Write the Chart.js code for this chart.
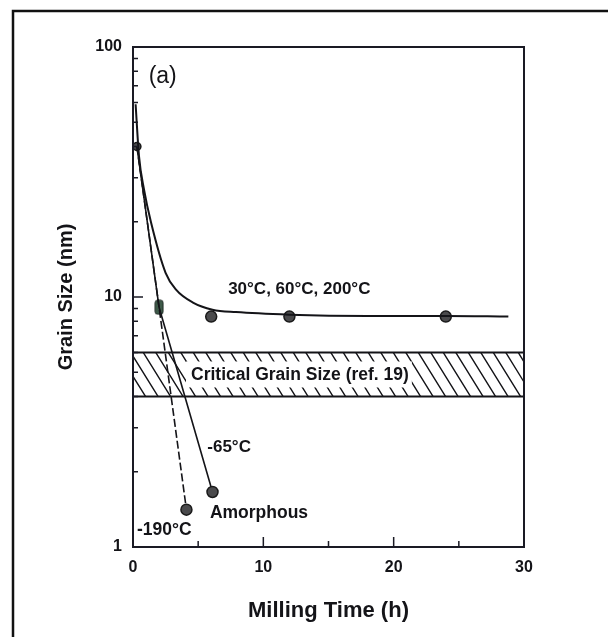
<!DOCTYPE html>
<html>
<head>
<meta charset="utf-8">
<script src="https://cdn.jsdelivr.net/npm/chart.js@4/dist/chart.umd.min.js"></script>
<style>
  html, body { margin: 0; padding: 0; background: #ffffff; }
  canvas { display: block; }
</style>
</head>
<body>
<canvas id="grainChart" width="608" height="637"></canvas>
<script>
// Grain size (nm) versus milling time (h) at several milling temperatures
const startTime = [0.3];
const startSize = [40];

const warmCurveTime = [0.2, 0.46, 0.84, 1.38, 2.5, 3.3, 4.6, 6.1, 7.9, 12, 18, 24, 28.8];
const warmCurveSize = [59, 36.6, 27, 19.9, 12.5, 10.7, 9.5, 8.9, 8.7, 8.5, 8.4, 8.4, 8.35];
const warmPointTime = [6, 12, 24];
const warmPointSize = [8.35, 8.35, 8.35];

const minus65Time = [0.3, 2, 6.1];
const minus65Size = [40, 9.1, 1.66];
const minus190Time = [0.3, 2, 4.1];
const minus190Size = [40, 9.1, 1.41];
const squareTime = [2];
const squareSize = [9.1];

const criticalBand = [4, 6];

const xTickLabels = [0, 10, 20, 30];
const yTickLabels = [1, 10, 100];
const xMajorTicks = [10, 20];
const xMinorTicks = [5, 15, 25];
const yMajorTicks = [10];
const yMinorTicks = [2, 3, 4, 5, 6, 7, 8, 9, 20, 30, 40, 50, 60, 70, 80, 90];

const FAMILY = '"Liberation Sans", Arial, Helvetica, sans-serif';
const INK = '#141418';

// Text labels placed at (hours, nm) anchors; text starts at the anchor and is vertically centred on it
const notes = [
  { text: '(a)', t: 1.2, v: 76, font: 'normal 23px ' + FAMILY },
  { text: '30\u00B0C, 60\u00B0C, 200\u00B0C', t: 7.3, v: 10.7, font: 'bold 17px ' + FAMILY },
  { text: '-65\u00B0C', t: 5.7, v: 2.51, font: 'bold 17px ' + FAMILY },
  { text: 'Amorphous', t: 5.9, v: 1.37, font: 'bold 17.5px ' + FAMILY },
  { text: '-190\u00B0C', t: 0.3, v: 1.17, font: 'bold 17.5px ' + FAMILY }
];
const bandNote = { text: 'Critical Grain Size (ref. 19)', t: 4.45, font: 'bold 17.5px ' + FAMILY };

const pts = (xs, ys) => xs.map((x, i) => ({ x: x, y: ys[i] }));

// Small rounded rectangle used as the marker at 2 h
const squareMarker = (() => {
  const c = document.createElement('canvas');
  c.width = 10; c.height = 16;
  const g = c.getContext('2d');
  g.fillStyle = '#3e5a49';
  g.strokeStyle = '#1f2a24';
  g.lineWidth = 1;
  g.beginPath();
  g.roundRect(1, 1, 8, 14, 2.5);
  g.fill();
  g.stroke();
  return c;
})();

const decorations = {
  id: 'decorations',
  beforeDraw(chart) {
    const ctx = chart.ctx;
    ctx.save();
    ctx.strokeStyle = '#111';
    ctx.lineWidth = 2.5;
    ctx.beginPath();
    ctx.moveTo(13, 637);
    ctx.lineTo(13, 11);
    ctx.lineTo(608, 11);
    ctx.stroke();
    ctx.restore();
  },
  beforeDatasetsDraw(chart) {
    const { ctx, chartArea: a, scales: { x, y } } = chart;
    const yTop = y.getPixelForValue(criticalBand[1]);
    const yBot = y.getPixelForValue(criticalBand[0]);
    ctx.save();
    // hatched band
    ctx.beginPath();
    ctx.rect(a.left, yTop, a.right - a.left, yBot - yTop);
    ctx.clip();
    ctx.strokeStyle = INK;
    ctx.lineWidth = 1.4;
    const h = yBot - yTop;
    const lean = 0.62 * h;
    ctx.beginPath();
    for (let px = a.left - lean; px < a.right + lean; px += 12.5) {
      ctx.moveTo(px, yTop);
      ctx.lineTo(px + lean, yBot);
    }
    ctx.stroke();
    // clear box behind the band label
    ctx.font = bandNote.font;
    const tx = x.getPixelForValue(bandNote.t);
    const tw = ctx.measureText(bandNote.text).width;
    const cy = (yTop + yBot) / 2;
    ctx.fillStyle = '#ffffff';
    ctx.fillRect(tx - 5, cy - 13, tw + 8, 26);
    ctx.restore();
    ctx.save();
    ctx.fillStyle = INK;
    ctx.font = bandNote.font;
    ctx.textBaseline = 'middle';
    ctx.fillText(bandNote.text, tx, cy + 1);
    ctx.strokeStyle = INK;
    ctx.lineWidth = 2;
    ctx.beginPath();
    ctx.moveTo(a.left, yTop); ctx.lineTo(a.right, yTop);
    ctx.moveTo(a.left, yBot); ctx.lineTo(a.right, yBot);
    ctx.stroke();
    ctx.restore();
  },
  afterDatasetsDraw(chart) {
    const { ctx, chartArea: a, scales: { x, y } } = chart;
    ctx.save();
    // plot frame
    ctx.strokeStyle = '#1a1a24';
    ctx.lineWidth = 2;
    ctx.strokeRect(a.left, a.top, a.right - a.left, a.bottom - a.top);
    // inward tick marks
    ctx.lineWidth = 1.5;
    ctx.beginPath();
    yMinorTicks.forEach(v => { const p = y.getPixelForValue(v); ctx.moveTo(a.left, p); ctx.lineTo(a.left + 5, p); });
    yMajorTicks.forEach(v => { const p = y.getPixelForValue(v); ctx.moveTo(a.left, p); ctx.lineTo(a.left + 10, p); });
    xMinorTicks.forEach(v => { const p = x.getPixelForValue(v); ctx.moveTo(p, a.bottom); ctx.lineTo(p, a.bottom - 6); });
    xMajorTicks.forEach(v => { const p = x.getPixelForValue(v); ctx.moveTo(p, a.bottom); ctx.lineTo(p, a.bottom - 10); });
    ctx.stroke();
    // labels
    ctx.fillStyle = INK;
    ctx.textBaseline = 'middle';
    notes.forEach(n => {
      ctx.font = n.font;
      ctx.fillText(n.text, x.getPixelForValue(n.t), y.getPixelForValue(n.v));
    });
    ctx.restore();
  }
};

const circleStyle = {
  pointStyle: 'circle',
  pointBackgroundColor: '#4a4a4c',
  pointBorderColor: '#1a1a1a',
  pointBorderWidth: 1.5
};

new Chart(document.getElementById('grainChart'), {
  type: 'line',
  data: {
    datasets: [
      {
        label: '30\u00B0C, 60\u00B0C, 200\u00B0C curve',
        data: pts(warmCurveTime, warmCurveSize),
        borderColor: INK,
        borderWidth: 2,
        pointRadius: 0,
        cubicInterpolationMode: 'monotone',
        fill: false
      },
      {
        label: '-65\u00B0C',
        data: pts(minus65Time, minus65Size),
        borderColor: INK,
        borderWidth: 1.6,
        pointRadius: [0, 0, 5.5],
        ...circleStyle,
        fill: false
      },
      {
        label: '-190\u00B0C',
        data: pts(minus190Time, minus190Size),
        borderColor: INK,
        borderWidth: 1.6,
        borderDash: [8, 3],
        pointRadius: [0, 0, 5.5],
        ...circleStyle,
        fill: false
      },
      {
        label: '30\u00B0C, 60\u00B0C, 200\u00B0C',
        data: pts(warmPointTime, warmPointSize),
        showLine: false,
        pointRadius: 5.5,
        ...circleStyle
      },
      {
        label: 'start',
        data: pts(startTime, startSize),
        showLine: false,
        pointRadius: 4,
        ...circleStyle
      },
      {
        label: '2 h',
        data: pts(squareTime, squareSize),
        showLine: false,
        pointStyle: squareMarker,
        pointRadius: 6
      }
    ]
  },
  options: {
    responsive: false,
    devicePixelRatio: 1,
    animation: false,
    events: [],
    layout: { padding: { left: 44, top: 47, right: 84, bottom: 10 } },
    plugins: { legend: { display: false }, tooltip: { enabled: false } },
    scales: {
      x: {
        type: 'linear',
        min: 0,
        max: 30,
        afterBuildTicks: s => { s.ticks = xTickLabels.map(v => ({ value: v })); },
        afterFit: s => { s.height = 80; },
        grid: { display: false, drawTicks: false },
        border: { display: false },
        ticks: {
          autoSkip: false,
          maxRotation: 0,
          padding: 11,
          color: INK,
          font: { family: FAMILY, size: 16, weight: 'bold' },
          callback: v => String(v)
        },
        title: {
          display: true,
          text: 'Milling Time (h)',
          color: INK,
          font: { family: FAMILY, size: 22, weight: 'bold' },
          padding: { top: 0, bottom: 3 }
        }
      },
      y: {
        type: 'logarithmic',
        min: 1,
        max: 100,
        afterBuildTicks: s => { s.ticks = yTickLabels.map(v => ({ value: v })); },
        afterFit: s => { s.width = 89; },
        grid: { display: false, drawTicks: false },
        border: { display: false },
        ticks: {
          padding: 11,
          color: INK,
          font: { family: FAMILY, size: 16, weight: 'bold' },
          callback: v => String(v)
        },
        title: {
          display: true,
          text: 'Grain Size (nm)',
          color: INK,
          font: { family: FAMILY, size: 20, weight: 'bold' },
          padding: { top: 10, bottom: 0 }
        }
      }
    }
  },
  plugins: [decorations]
});
</script>
</body>
</html>
